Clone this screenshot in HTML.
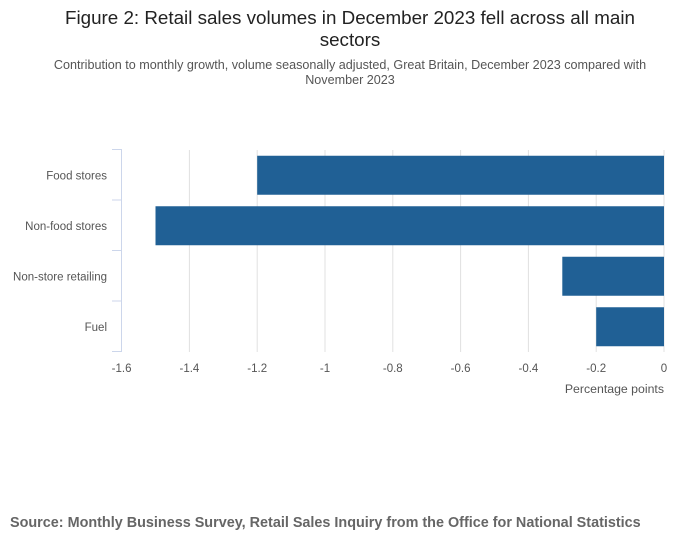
<!DOCTYPE html>
<html><head><meta charset="utf-8"><style>
body{margin:0;background:#fff;font-family:"Liberation Sans",sans-serif;}
svg{display:block}
</style></head><body>
<svg width="700" height="549">
<text x="350" y="24" text-anchor="middle" font-size="18.8" fill="#222">Figure 2: Retail sales volumes in December 2023 fell across all main</text>
<text x="350" y="46" text-anchor="middle" font-size="18.8" fill="#222">sectors</text>
<text x="350" y="69" text-anchor="middle" font-size="12.6" fill="#555">Contribution to monthly growth, volume seasonally adjusted, Great Britain, December 2023 compared with</text>
<text x="350" y="84" text-anchor="middle" font-size="12.6" fill="#555">November 2023</text>
<g id="grid"></g>
<g id="bars"></g>
<g id="axes"></g>
<text x="664" y="393" text-anchor="end" font-size="12.3" fill="#555">Percentage points</text>
<text x="10" y="527" font-size="14.4" font-weight="bold" fill="#666">Source: Monthly Business Survey, Retail Sales Inquiry from the Office for National Statistics</text>
</svg>
<script>
const categories=["Food stores","Non-food stores","Non-store retailing","Fuel"];
const values=[-1.2,-1.5,-0.3,-0.2];
const ticks=[-1.6,-1.4,-1.2,-1,-0.8,-0.6,-0.4,-0.2,0];
const tickLabels=["-1.6","-1.4","-1.2","-1","-0.8","-0.6","-0.4","-0.2","0"];
const NS="http://www.w3.org/2000/svg";
const plotLeft=121.6,plotRight=664,plotTop=150,plotBottom=352;
const xs=v=>plotLeft+(v+1.6)/1.6*(plotRight-plotLeft);
const band=(plotBottom-plotTop)/categories.length;
function mk(t,a,p){const e=document.createElementNS(NS,t);for(const k in a)e.setAttribute(k,a[k]);p.appendChild(e);return e;}
const g=document.getElementById('grid'),b=document.getElementById('bars'),ax=document.getElementById('axes');
ticks.forEach((t,i)=>{
 if(i>0){const l=mk('line',{x1:xs(t),x2:xs(t),y1:plotTop,y2:plotBottom,stroke:'#e0e0e0','stroke-width':1},g);
 
 }
 const tx=mk('text',{x:xs(t),y:372,'text-anchor':'middle','font-size':11.5,fill:'#555'},ax);
 tx.textContent=tickLabels[i];
 
 
});
const al=mk('line',{x1:121.5,x2:121.5,y1:plotTop-1,y2:plotBottom,stroke:'#ccd6eb','stroke-width':1},ax);


for(let i=0;i<=categories.length;i++){
 const y=plotTop+i*band-0.5;
 const tk=mk('line',{x1:112,x2:122,y1:y,y2:y,stroke:'#ccd6eb','stroke-width':1},ax);
 
 
}
categories.forEach((c,i)=>{
 const yc=plotTop+(i+0.5)*band;
 const v=values[i];
 const r=mk('rect',{x:xs(v),y:yc-19.5,width:xs(0)-xs(v),height:39,fill:'#206095'},b);
 
 
 const t=mk('text',{x:107,y:yc+4,'text-anchor':'end','font-size':11.5,fill:'#555'},ax);
 t.textContent=c;
 
 
});
</script>
</body></html>
